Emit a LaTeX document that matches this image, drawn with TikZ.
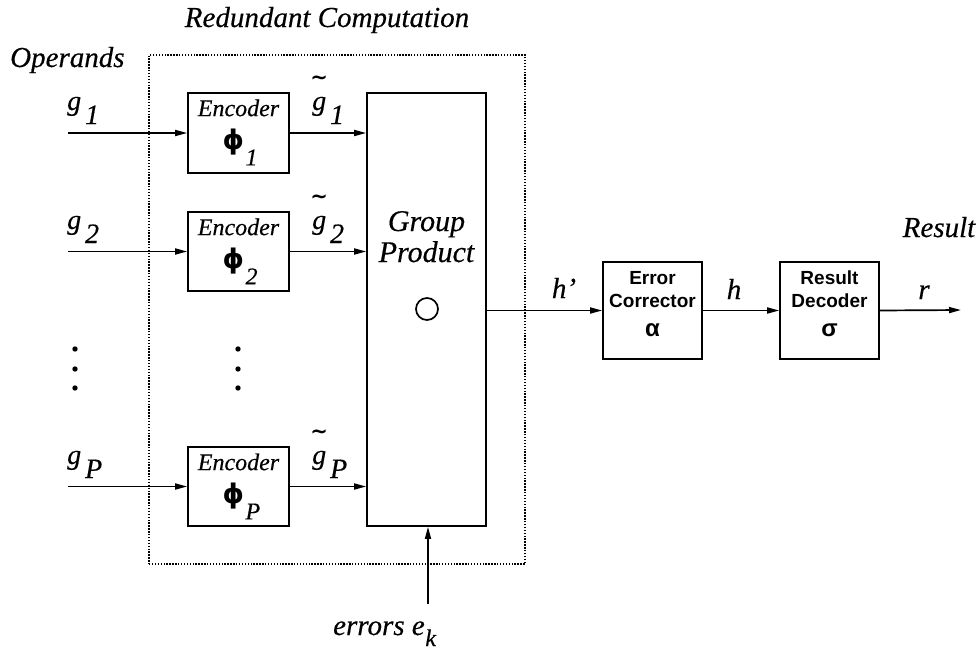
\documentclass[tikz,border=0pt]{standalone}
\usepackage{fontspec}
\setmainfont{Liberation Serif}[ItalicFeatures={FakeBold=0.4}]
\newfontfamily\sansf{Liberation Sans}
\newfontfamily\phif{DejaVu Sans}
\usetikzlibrary{arrows.meta}
\newcommand{\gsb}[1]{\textit{g}\hspace{0.14em}\raisebox{-0.5em}{\textit{#1}}}
\newcommand{\tgx}{\leavevmode\vbox{\offinterlineskip\halign{\hfil##\hfil\cr\hbox to 0pt{\hss\fontsize{21}{23}\selectfont\phif\bfseries\char"7E\hss}\cr\noalign{\kern12pt}\textit{g}\cr}}}
\newcommand{\tgsb}[1]{\tgx\hspace{0.14em}\raisebox{-0.5em}{\textit{#1}}}
\newcommand{\phisb}[1]{{\phif\bfseries ϕ}\hspace{0.05em}\raisebox{-0.6em}{\fontsize{24}{26}\selectfont\textit{#1}}}
\begin{document}
\begin{tikzpicture}[x=1pt,y=-1pt,
  blk/.style={draw, line width=1.7pt, inner sep=0pt},
  arr/.style={-{Triangle[length=12pt,width=6pt]}, line width=1.7pt},
  big/.style={font=\fontsize{29}{31}\selectfont\itshape, inner sep=0pt},
  lab/.style={font=\fontsize{28}{30}\selectfont, inner sep=0pt},
  enctext/.style={font=\fontsize{24}{26}\selectfont\itshape, inner sep=0pt},
  sans/.style={font=\fontsize{19}{22}\selectfont\sansf\bfseries, inner sep=0pt},
  greek/.style={font=\fontsize{24}{26}\selectfont\sansf\bfseries, inner sep=0pt}]
\useasboundingbox (0,0) rectangle (980,656);

% redundant computation frame
\node[draw, line width=1.6pt, dash pattern=on 1.4pt off 1.5pt, minimum width=376pt, minimum height=509pt, inner sep=0pt] (frame) at (337,309.5) {};

% encoders
\node[blk, minimum width=101pt, minimum height=80pt] (e1) at (238.5,133) {};
\node[blk, minimum width=101pt, minimum height=79pt] (e2) at (238.5,251.5) {};
\node[blk, minimum width=101pt, minimum height=79pt] (eP) at (238.5,486.5) {};
\foreach \n/\s in {e1/1,e2/2,eP/P}{
  \node[enctext, anchor=base] (\n t) at ([yshift=-24pt]\n.north) {Encoder};
  \node[lab, anchor=base west] (\n p) at ([xshift=-16pt,yshift=-57pt]\n.north) {\fontsize{27}{28}\selectfont\phisb{\s}};
}

% group product
\node[blk, minimum width=119pt, minimum height=433pt] (gp) at (426.5,309.5) {};
\node[big, anchor=base, font=\fontsize{30}{32}\selectfont\itshape] (gpt1) at (426.5,231) {Group};
\node[big, anchor=base, font=\fontsize{30}{32}\selectfont\itshape] (gpt2) at (426.5,262) {Product};
\node[draw, circle, line width=1.7pt, minimum size=22pt, inner sep=0pt] (op) at (427,309) {};

% corrector & decoder
\node[blk, minimum width=99pt, minimum height=97pt] (ec) at (652.5,310.5) {};
\node[blk, minimum width=99pt, minimum height=97pt] (rd) at (829.5,310.5) {};
\node[sans, anchor=base] (ect1) at (652.5,284) {Error};
\node[sans, anchor=base] (ect2) at (652.5,307) {Corrector};
\node[greek, anchor=base] (ect3) at (652.5,336) {α};
\node[sans, anchor=base] (rdt1) at (829.5,284) {Result};
\node[sans, anchor=base] (rdt2) at (829.5,307) {Decoder};
\node[greek, anchor=base] (rdt3) at (829.5,336) {σ};

% inputs
\coordinate (i1) at (68,133);
\coordinate (i2) at (68,251.5);
\coordinate (iP) at (68,486.5);
\draw[arr] (i1) -- (e1.west);
\draw[arr] (i2) -- (e2.west);
\draw[arr] (iP) -- (eP.west);
\draw[arr] (e1.east) -- (gp.west |- e1.east);
\draw[arr] (e2.east) -- (gp.west |- e2.east);
\draw[arr] (eP.east) -- (gp.west |- eP.east);

\node[lab, anchor=base west] (g1) at (67,110) {\gsb{1}};
\node[lab, anchor=base west] (g2) at (67,229) {\gsb{2}};
\node[lab, anchor=base west] (gP) at (67,464) {\gsb{P}};
\node[lab, anchor=base west] (tg1) at (312,110) {\tgsb{1}};
\node[lab, anchor=base west] (tg2) at (312,229) {\tgsb{2}};
\node[lab, anchor=base west] (tgP) at (312,464) {\tgsb{P}};

% dots
\foreach \x in {75,238}{
  \foreach \y in {349,369,388}{
    \fill (\x,\y) circle (2.7pt);
  }
}

% output chain
\coordinate (out) at (961,310);
\draw[arr] (gp.east |- ec.west) -- (ec.west);
\draw[arr] (ec.east) -- (rd.west);
\draw[arr] (rd.east) -- (out);
\node[big, anchor=base] (hp) at (564,298) {h’};
\node[big, anchor=base] (hh) at (734,299) {h};
\node[big, anchor=base] (rr) at (924,299) {r};

% errors
\coordinate (err) at (428,604);
\draw[arr] (err) -- (gp.south -| err);
\node[big, anchor=base west] (errl) at (333,635) {errors \textit{e}\hspace{0.02em}\raisebox{-0.38em}{\fontsize{24}{26}\selectfont\textit{k}}};

% titles
\node[big, anchor=base west] (ops) at (10,67) {Operands};
\node[big, anchor=base] (red) at (327,27) {Redundant Computation};
\node[big, anchor=base] (res) at (939,237) {Result};
\end{tikzpicture}
\end{document}
